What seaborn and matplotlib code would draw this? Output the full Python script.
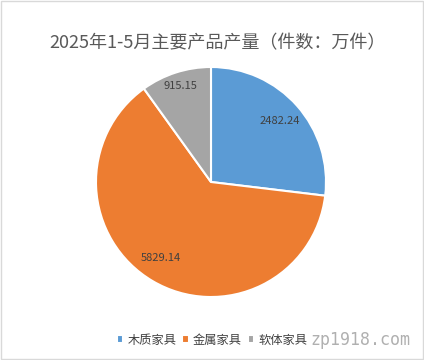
import matplotlib
matplotlib.use("Agg")
import matplotlib.pyplot as plt
import seaborn as sns
from matplotlib.patches import Rectangle

sns.set_theme(style="white")
plt.rcParams['font.family'] = ['Noto Sans CJK SC', 'DejaVu Sans']

title = "2025年1-5月主要产品产量（件数：万件）"
categories = ["木质家具", "金属家具", "软体家具"]
values = [2482.24, 5829.14, 915.15]
value_labels = ["2482.24", "5829.14", "915.15"]
colors = ["#5B9BD5", "#ED7D31", "#A5A5A5"]

fig = plt.figure(figsize=(4.24, 3.60), dpi=100)
fig.patch.set_facecolor("white")
fig.patches.append(Rectangle((0.002, 0.002), 0.996, 0.994, transform=fig.transFigure,
                             fill=False, edgecolor="#D9D9D9", linewidth=1.0))

cx, cy, r = 211, 182, 115
ax = fig.add_axes([(cx - r) / 424, (360 - cy - r) / 360, 2 * r / 424, 2 * r / 360])
wedges, texts = ax.pie(values, labels=value_labels, colors=colors, startangle=90,
                       counterclock=False, radius=1.0, labeldistance=0.8,
                       wedgeprops=dict(edgecolor="white", linewidth=1.5),
                       textprops=dict(fontsize=8, color="#404040"))
for t in texts:
    t.set_horizontalalignment("center")
    t.set_verticalalignment("center")
x, y = texts[2].get_position()
texts[2].set_position((x * 1.1, y * 1.1))
x, y = texts[1].get_position()
texts[1].set_position((x - 0.03, y + 0.03))
ax.set_xlim(-1, 1)
ax.set_ylim(-1, 1)
ax.set_aspect("equal")
ax.axis("off")

fig.text(218 / 424, 1 - 43 / 360, title, ha="center", va="center",
         fontsize=13, color="#595959")

leg = fig.legend(wedges, categories, loc="center", bbox_to_anchor=(212 / 424, 1 - 340 / 360),
                 ncol=3, frameon=False, fontsize=8.8, handlelength=0.55, handleheight=0.55,
                 handletextpad=0.35, columnspacing=0.45)
for t in leg.get_texts():
    t.set_color("#404040")

fig.text(360 / 424, 1 - 340 / 360, "zp1918.com", ha="center", va="center",
         fontsize=12, color="#B0B0B0", family=["DejaVu Sans Mono"])

fig.savefig("out.png", dpi=100)
